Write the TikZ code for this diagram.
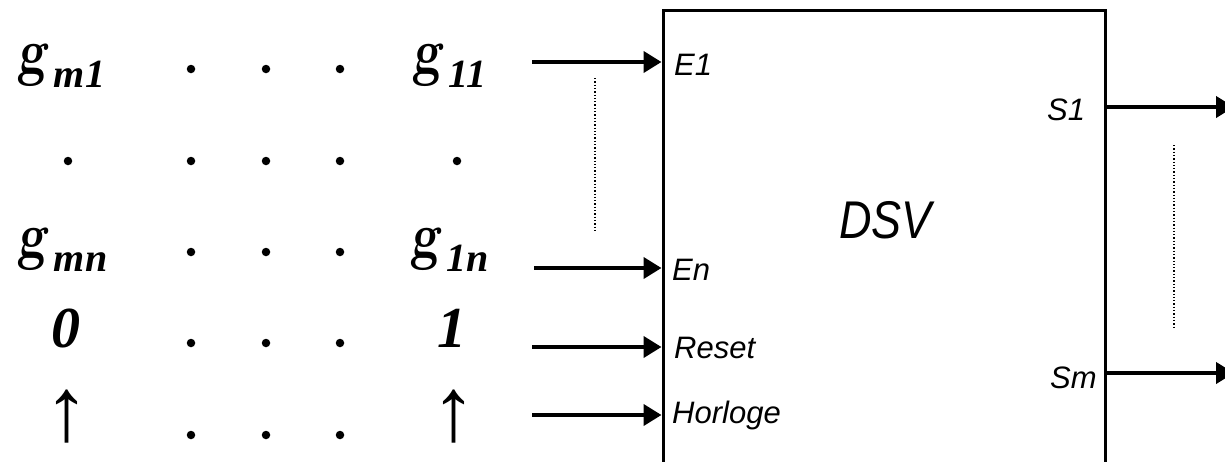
\documentclass[tikz,border=0pt]{standalone}
\usepackage{fontspec}
\setmainfont{Liberation Serif}
\newfontfamily\arialf{Liberation Sans}
\newfontfamily\gfont{lmromanslant10-bold.otf}
\usetikzlibrary{arrows.meta}
\tikzset{
  mat/.style={inner sep=0pt, anchor=base west, font=\fontsize{50}{50}\selectfont\bfseries\itshape},
  dig/.style={inner sep=0pt, anchor=base, font=\fontsize{58}{58}\selectfont\bfseries\itshape},
  pin/.style={inner sep=0pt, anchor=base west, font=\arialf\itshape\fontsize{31}{31}\selectfont},
  arr/.style={line width=4pt, -{Triangle[length=18pt,width=21pt]}},
  dotline/.style={line width=1.3pt, dotted},
  dotmark/.style={circle, fill=black, inner sep=0pt, minimum size=8.5pt},
  uparr/.style={inner sep=0pt, anchor=base, font=\fontsize{90}{90}\selectfont}
}
\newcommand{\gsym}{\scalebox{1}[1.3]{\gfont g}}
\newcommand{\subtxt}[1]{\kern8pt\raisebox{-14pt}{\fontsize{40}{40}\selectfont #1}}
\begin{document}
\begin{tikzpicture}[x=1pt,y=-1pt]
\useasboundingbox (0,0) rectangle (1225,461);
% block
\node[draw, line width=3pt, minimum width=442pt, minimum height=480pt, inner sep=0pt] (box) at (884,250) {};
\node[inner sep=0pt, anchor=base west, font=\arialf\itshape\fontsize{45}{45}\selectfont] (dsv) at (839,238) {\scalebox{1}[1.18]{DSV}};
% matrix
\node[mat] (gm1) at (17,73) {\gsym\subtxt{m1}};
\node[mat] (g11) at (412,73) {\gsym\subtxt{11}};
\node[mat] (gmn) at (17,257) {\gsym\subtxt{mn}};
\node[mat] (g1n) at (410,257) {\gsym\subtxt{1n}};
\node[dig] (zero) at (66,347) {0};
\node[dig] (one) at (452,347) {1};
\node[uparr] (ua1) at (67,440) {↑};
\node[uparr] (ua2) at (454,440) {↑};
\foreach \y/\r in {69/a,252/c,343/d,435/e}{
  \foreach \x/\c in {191/1,266/2,340/3}{
    \node[dotmark] (d\r\c) at (\x,\y) {};
  }
}
\foreach \x/\c in {68/0,191/1,266/2,340/3,457/4}{
  \node[dotmark] (db\c) at (\x,161) {};
}
% inputs
\coordinate (ie1) at (532,62);
\coordinate (ien) at (534,268);
\coordinate (ires) at (532,347);
\coordinate (ihor) at (532,415);
\draw[arr] (ie1) -- (ie1 -| box.west);
\draw[arr] (ien) -- (ien -| box.west);
\draw[arr] (ires) -- (ires -| box.west);
\draw[arr] (ihor) -- (ihor -| box.west);
\node[pin] (le1) at (674,75) {E1};
\node[pin] (len) at (672,280) {En};
\node[pin] (lres) at (674,358) {Reset};
\node[pin] (lhor) at (672,423) {Horloge};
\coordinate (dl1) at (595,78);
\coordinate (dl2) at (595,233);
\draw[dotline] (dl1) -- (dl2);
% outputs
\coordinate (os1) at (1234,107);
\coordinate (osm) at (1234,373);
\draw[arr] (os1 -| box.east) -- (os1);
\draw[arr] (osm -| box.east) -- (osm);
\node[pin] (ls1) at (1047,120) {S1};
\node[pin] (lsm) at (1050,388) {Sm};
\coordinate (dr1) at (1174,145);
\coordinate (dr2) at (1174,327);
\draw[dotline] (dr1) -- (dr2);
\end{tikzpicture}
\end{document}
